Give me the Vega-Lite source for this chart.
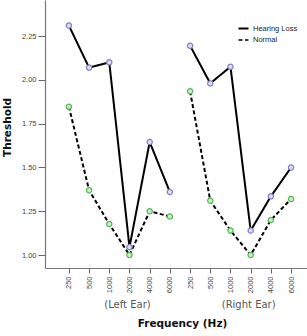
{
  "$schema": "https://vega.github.io/schema/vega-lite/v6.json",
  "width": 262,
  "height": 268,
  "autosize": "none",
  "padding": {"left": 45, "top": 0, "right": 0, "bottom": 68},
  "background": "white",
  "config": {"view": {"stroke": null}, "font": "Liberation Sans"},
  "datasets": {
    "points": [
      {"ear": "Left", "pos": "L 250", "group": "Hearing Loss", "threshold": 2.31},
      {"ear": "Left", "pos": "L 500", "group": "Hearing Loss", "threshold": 2.07},
      {"ear": "Left", "pos": "L 1000", "group": "Hearing Loss", "threshold": 2.10},
      {"ear": "Left", "pos": "L 2000", "group": "Hearing Loss", "threshold": 1.045},
      {"ear": "Left", "pos": "L 4000", "group": "Hearing Loss", "threshold": 1.645},
      {"ear": "Left", "pos": "L 6000", "group": "Hearing Loss", "threshold": 1.36},
      {"ear": "Right", "pos": "R 250", "group": "Hearing Loss", "threshold": 2.195},
      {"ear": "Right", "pos": "R 500", "group": "Hearing Loss", "threshold": 1.98},
      {"ear": "Right", "pos": "R 1000", "group": "Hearing Loss", "threshold": 2.075},
      {"ear": "Right", "pos": "R 2000", "group": "Hearing Loss", "threshold": 1.14},
      {"ear": "Right", "pos": "R 4000", "group": "Hearing Loss", "threshold": 1.335},
      {"ear": "Right", "pos": "R 6000", "group": "Hearing Loss", "threshold": 1.50},
      {"ear": "Left", "pos": "L 250", "group": "Normal", "threshold": 1.847},
      {"ear": "Left", "pos": "L 500", "group": "Normal", "threshold": 1.37},
      {"ear": "Left", "pos": "L 1000", "group": "Normal", "threshold": 1.177},
      {"ear": "Left", "pos": "L 2000", "group": "Normal", "threshold": 1.0},
      {"ear": "Left", "pos": "L 4000", "group": "Normal", "threshold": 1.25},
      {"ear": "Left", "pos": "L 6000", "group": "Normal", "threshold": 1.22},
      {"ear": "Right", "pos": "R 250", "group": "Normal", "threshold": 1.935},
      {"ear": "Right", "pos": "R 500", "group": "Normal", "threshold": 1.31},
      {"ear": "Right", "pos": "R 1000", "group": "Normal", "threshold": 1.14},
      {"ear": "Right", "pos": "R 2000", "group": "Normal", "threshold": 1.0},
      {"ear": "Right", "pos": "R 4000", "group": "Normal", "threshold": 1.20},
      {"ear": "Right", "pos": "R 6000", "group": "Normal", "threshold": 1.32}
    ],
    "ears": [
      {"label": "(Left Ear)", "pos": "L 2000", "threshold": 0.715},
      {"label": "(Right Ear)", "pos": "R 2000", "threshold": 0.715}
    ]
  },
  "encoding": {
    "x": {
      "field": "pos",
      "type": "ordinal",
      "sort": ["L 250", "L 500", "L 1000", "L 2000", "L 4000", "L 6000", "R 250", "R 500", "R 1000", "R 2000", "R 4000", "R 6000"],
      "scale": {"type": "point", "padding": 0.985, "align": 0.6,
        "domain": ["L 250", "L 500", "L 1000", "L 2000", "L 4000", "L 6000", "R 250", "R 500", "R 1000", "R 2000", "R 4000", "R 6000"]},
      "axis": {
        "title": "Frequency (Hz)",
        "titleFont": "DejaVu Sans",
        "titleFontSize": 10.5,
        "titleFontWeight": "bold",
        "titleColor": "#111",
        "titlePadding": 26,
        "titleX": 137,
        "labelExpr": "split(datum.value, ' ')[1]",
        "labelAngle": -90,
        "labelFontSize": 7.5,
        "labelColor": "#444",
        "labelPadding": 3,
        "tickSize": 5,
        "tickColor": "#666",
        "domainColor": "#777",
        "domainWidth": 1.2,
        "grid": false
      }
    },
    "y": {
      "field": "threshold",
      "type": "quantitative",
      "scale": {"domain": [0.926, 2.456], "nice": false, "zero": false},
      "axis": {
        "title": "Threshold",
        "titleFont": "DejaVu Sans",
        "titleFontSize": 10.5,
        "titleFontWeight": "bold",
        "titleColor": "#111",
        "titlePadding": 9,
        "titleY": 127,
        "values": [1.0, 1.25, 1.5, 1.75, 2.0, 2.25],
        "format": ".2f",
        "labelFontSize": 7.5,
        "labelColor": "#444",
        "labelPadding": 2,
        "tickSize": 7,
        "tickColor": "#666",
        "domainColor": "#777",
        "domainWidth": 1.2,
        "grid": false
      }
    }
  },
  "layer": [
    {
      "data": {"name": "points"},
      "mark": {"type": "line", "color": "black", "strokeWidth": 2},
      "encoding": {
        "detail": {"field": "ear"},
        "strokeDash": {
          "field": "group",
          "type": "nominal",
          "scale": {"domain": ["Hearing Loss", "Normal"], "range": [[1, 0], [4, 2.5]]},
          "legend": {
            "title": null,
            "orient": "none",
            "legendX": 192,
            "legendY": 22,
            "symbolType": "stroke",
            "symbolSize": 100,
            "symbolStrokeWidth": 2,
            "symbolStrokeColor": "black",
            "labelFontSize": 7.5,
            "labelColor": "#222",
            "rowPadding": 1,
            "labelOffset": 3
          }
        },
        "strokeWidth": {
          "field": "group",
          "type": "nominal",
          "scale": {"domain": ["Hearing Loss", "Normal"], "range": [2.2, 1.5]},
          "legend": null
        }
      }
    },
    {
      "data": {"name": "points"},
      "mark": {"type": "point", "filled": false, "size": 28, "strokeWidth": 1.2, "fillOpacity": 1},
      "encoding": {
        "stroke": {
          "condition": {"test": "datum.group === 'Normal'", "value": "#52b552"},
          "value": "#7f7fc4"
        },
        "fill": {
          "condition": {"test": "datum.group === 'Normal'", "value": "#c9ecc9"},
          "value": "#dcdcf2"
        }
      }
    },
    {
      "data": {"name": "ears"},
      "mark": {"type": "text", "fontSize": 10, "color": "#555", "font": "DejaVu Sans", "baseline": "middle", "clip": false, "dx": -2},
      "encoding": {
        "text": {"field": "label"}
      }
    }
  ]
}
